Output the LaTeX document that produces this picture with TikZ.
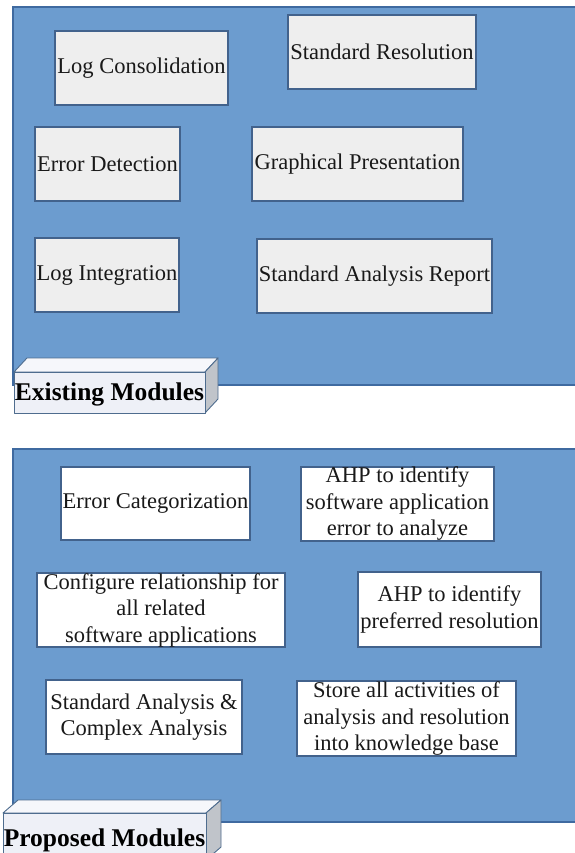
\documentclass[tikz,border=0pt]{standalone}
\usepackage{fontspec}
\setmainfont{Liberation Serif}
\definecolor{panelblue}{RGB}{108,156,207}
\definecolor{panelline}{RGB}{63,106,160}
\definecolor{boxline}{RGB}{66,98,140}
\definecolor{boxgray}{RGB}{238,238,238}
\definecolor{cubefront}{RGB}{238,240,247}
\definecolor{cubetop}{RGB}{246,247,251}
\definecolor{cubeside}{RGB}{192,196,202}
\definecolor{cubeline}{RGB}{78,108,142}
\tikzset{
  panel/.style={fill=panelblue, draw=panelline, line width=1.2pt},
  modbox/.style={draw=boxline, line width=1.1pt, inner sep=0pt, align=center,
    font=\fontsize{22.5}{26.5}\selectfont, text=black!90},
  topbox/.style={modbox, fill=boxgray},
  botbox/.style={modbox, fill=white},
  cubeface/.style={draw=cubeline, line width=0.9pt, line join=round},
  cubelabel/.style={font=\fontsize{25.5}{28}\selectfont\bfseries, inner sep=0pt, anchor=base}
}
\begin{document}
\begin{tikzpicture}[x=1pt, y=-1pt]
\useasboundingbox (0,0) rectangle (574,853);
\fill[white] (0,0) rectangle (574,853);
% panels
\draw[panel] (13,7) rectangle (580,385);
\draw[panel] (13,449) rectangle (580,822);
% existing modules
\node[topbox, minimum width=173pt, minimum height=74pt] (lc) at (141.5,68) {Log Consolidation};
\node[topbox, minimum width=188pt, minimum height=74pt] (sr) at (382,52) {Standard Resolution};
\node[topbox, minimum width=145pt, minimum height=74pt] (ed) at (107.5,164) {Error Detection};
\node[topbox, minimum width=211pt, minimum height=74pt] (gp) at (357.5,164) {Graphical Presentation};
\node[topbox, minimum width=144pt, minimum height=74pt] (li) at (107,275) {Log Integration};
\node[topbox, minimum width=235pt, minimum height=74pt] (sar) at (374.5,276) {Standard Analysis Report};
% proposed modules
\node[botbox, minimum width=189pt, minimum height=73pt] (ec) at (155.5,503.5) {Error Categorization};
\node[botbox, minimum width=193pt, minimum height=74pt] (ahpa) at (397.5,504) {AHP to identify\\software application\\error to analyze};
\node[botbox, minimum width=248pt, minimum height=74pt] (cfg) at (161,610) {Configure relationship for\\all related\\software applications};
\node[botbox, minimum width=183pt, minimum height=75pt] (ahpb) at (449.5,609.5) {AHP to identify\\preferred resolution};
\node[botbox, minimum width=196pt, minimum height=74pt] (sca) at (144,717) {Standard Analysis \&\\Complex Analysis};
\node[botbox, minimum width=219pt, minimum height=75pt] (store) at (406.5,718.5) {Store all activities of\\analysis and resolution\\into knowledge base};
% cube label: Existing Modules
\filldraw[cubeface, fill=cubetop] (14,372) -- (27,358) -- (218,358) -- (205,372) -- cycle;
\filldraw[cubeface, fill=cubeside] (205,372) -- (218,358) -- (218,399) -- (205,413) -- cycle;
\filldraw[cubeface, fill=cubefront] (14,372) rectangle (205,413);
\node[cubelabel] (exlabel) at (109.5,400) {Existing Modules};
% cube label: Proposed Modules
\filldraw[cubeface, fill=cubetop] (3,813) -- (18,800) -- (221,800) -- (206,813) -- cycle;
\filldraw[cubeface, fill=cubeside] (206,813) -- (221,800) -- (221,847) -- (206,860) -- cycle;
\filldraw[cubeface, fill=cubefront] (3,813) rectangle (206,860);
\node[cubelabel] (prlabel) at (104.5,846) {Proposed Modules};
\end{tikzpicture}
\end{document}
